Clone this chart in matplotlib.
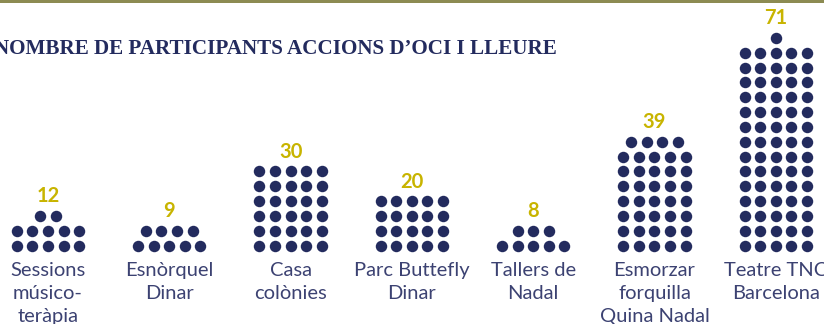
import matplotlib.pyplot as plt
from matplotlib.patches import Rectangle

activitats = ["Sessions\nmúsico-\nteràpia", "Esnòrquel\nDinar", "Casa\ncolònies",
              "Parc Buttefly\nDinar", "Tallers de\nNadal", "Esmorzar\nforquilla\nQuina Nadal",
              "Teatre TNC\nBarcelona"]
participants = [12, 9, 30, 20, 8, 39, 71]

titol = "NOMBRE DE PARTICIPANTS ACCIONS D\u2019OCI I LLEURE"

navy = "#232b5e"
gold = "#c8b400"
text_col = "#3c4272"

per_row = 5
x0, col_gap = 48, 121.3     # column centres (px)
dx, dy = 15.6, 14.85        # dot spacing (px)
base_y = 245.7              # centre of bottom row

fig = plt.figure(figsize=(8.24, 3.24), dpi=100)
ax = fig.add_axes([0, 0, 1, 1])
ax.set_xlim(0, 824)
ax.set_ylim(324, 0)
ax.axis("off")

# olive strip along the top edge
ax.add_patch(Rectangle((0, 0), 824, 3, color="#8c8b52", lw=0))

ax.text(-6, 49, titol, fontsize=15.2, fontweight="bold", family="Liberation Serif",
        color=navy, ha="left", va="center")

for i, (nom, n) in enumerate(zip(activitats, participants)):
    cx = x0 + i * col_gap
    xs, ys = [], []
    rows = (n + per_row - 1) // per_row
    for r in range(rows):
        k = min(per_row, n - r * per_row)
        for c in range(k):
            xs.append(cx + (c - (k - 1) / 2) * dx)
            ys.append(base_y - r * dy)
    ax.scatter(xs, ys, s=68, color=navy, lw=0)
    top = base_y - (rows - 1) * dy
    ax.text(cx, top - 19.5, str(n), fontsize=14.5, fontweight="bold", family="Lato",
            color=gold, ha="center", va="center")
    ax.text(cx, 262, nom, fontsize=14.5, family="Lato", color=text_col,
            ha="center", va="top", linespacing=1.42)

fig.savefig("out.png", dpi=100)
